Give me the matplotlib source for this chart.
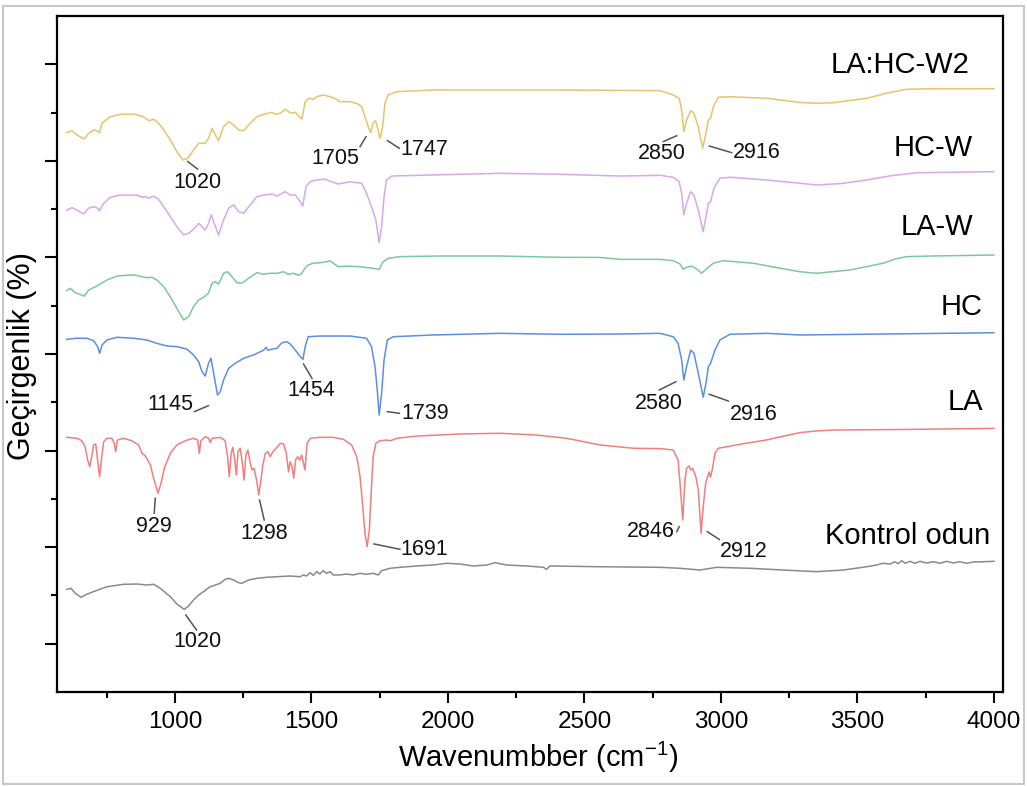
import matplotlib
matplotlib.use("Agg")
import matplotlib.pyplot as plt
from matplotlib.patches import Rectangle

plt.rcParams['font.family'] = ['Liberation Sans', 'DejaVu Sans']
plt.rcParams['mathtext.fontset'] = 'custom'
plt.rcParams['mathtext.rm'] = 'Liberation Sans'
plt.rcParams['mathtext.it'] = 'Liberation Sans:italic'

# ---------------- data (wavenumber, offset transmittance) ----------------
yellow_x = [604, 623, 641, 668, 684, 702, 714, 724, 733, 763, 800, 849, 885, 904, 922, 940, 959, 983, 1007, 1029,
            1047, 1068, 1087, 1111, 1123, 1136, 1148, 1160, 1178, 1197, 1215, 1233, 1252, 1270, 1300, 1325, 1355,
            1367, 1386, 1404, 1416, 1429, 1441, 1453, 1465, 1477, 1490, 1507, 1519, 1543, 1568, 1592, 1604, 1641,
            1671, 1684, 1696, 1708, 1717, 1726, 1735, 1741, 1751, 1761, 1769, 1781, 1812, 1946, 2410, 2777, 2825,
            2847, 2856, 2864, 2874, 2889, 2901, 2917, 2933, 2945, 2954, 2962, 2972, 2990, 3033, 3167, 3289, 3350,
            3411, 3534, 3606, 3680, 3778, 4000]
yellow_y = [579.2, 581.2, 576.8, 572.6, 578.5, 582, 581.2, 579.2, 588.9, 595.7, 598.2, 598.5, 595.7, 591.6, 593,
            588.9, 582, 571.6, 559.5, 550.9, 552.6, 561.2, 568.2, 568.2, 573.4, 583.7, 576.8, 570.9, 585.4, 590.6,
            587.1, 582, 581.2, 587.1, 595.7, 598.2, 600.3, 598.2, 599.3, 603.4, 600.9, 599.3, 600.3, 596.4, 593.3,
            611.3, 614.8, 613.7, 616.4, 618.2, 616.4, 613.7, 611.3, 611.3, 608.9, 606.1, 595.7, 585.4, 579.2, 588.9,
            591.6, 585.4, 573.4, 585.4, 609.6, 618.2, 621.6, 623.4, 623.4, 622.7, 618.2, 614.8, 602.7, 580.2, 592.3,
            601.9, 599.3, 585.4, 563, 578.5, 592.3, 594.1, 606.1, 615.8, 616.4, 614.8, 610.5, 609.6, 610.2, 614.8,
            620.0, 624.1, 624.7, 624.7]

purple_x = [604, 623, 641, 666, 684, 702, 717, 724, 739, 763, 800, 861, 879, 891, 904, 922, 940, 959, 983, 1007,
            1032, 1050, 1068, 1087, 1099, 1111, 1123, 1133, 1144, 1160, 1178, 1197, 1215, 1233, 1252, 1270, 1300,
            1325, 1355, 1374, 1404, 1422, 1441, 1459, 1468, 1480, 1495, 1519, 1549, 1574, 1598, 1641, 1684, 1702,
            1720, 1736, 1748, 1757, 1766, 1775, 1794, 1946, 2190, 2410, 2630, 2777, 2825, 2847, 2856, 2864, 2874,
            2889, 2901, 2917, 2935, 2945, 2954, 2962, 2974, 2996, 3033, 3167, 3289, 3350, 3440, 3534, 3620, 3717,
            4000]
purple_y = [499, 501.5, 499, 495, 501, 502.5, 501, 498.4, 506, 512.3, 514.6, 514.6, 512.3, 513, 511.2, 513.6,
            510.2, 502.5, 492.2, 481.8, 473.2, 475, 479, 485.3, 481.8, 478.4, 485.3, 494, 485.3, 473.2, 488.8, 501,
            504.3, 497.4, 495.7, 502.5, 513, 514.6, 515.7, 513.6, 518.1, 514.6, 514.6, 507.7, 503.3, 523.2, 528.4,
            530.2, 531, 528.4, 526, 528.4, 526.8, 516.4, 502.5, 488.8, 465.3, 481.8, 513, 530.2, 534.3, 535.4,
            537.1, 536.1, 534.3, 535, 533, 528.4, 516.4, 494, 506, 518, 514.6, 499, 476.6, 492.2, 506, 507.7,
            521.6, 532, 533, 530.2, 526.8, 525, 526.5, 530.2, 534.5, 537.7, 538.8]

green_x = [604, 616, 635, 668, 684, 714, 751, 788, 849, 879, 897, 916, 934, 959, 983, 1007, 1032, 1050, 1068, 1087,
           1105, 1123, 1136, 1148, 1160, 1178, 1193, 1209, 1227, 1245, 1270, 1300, 1325, 1349, 1374, 1398, 1416,
           1435, 1453, 1465, 1476, 1488, 1507, 1531, 1556, 1568, 1580, 1598, 1629, 1678, 1726, 1748, 1763, 1781,
           1824, 1971, 2190, 2410, 2557, 2630, 2777, 2825, 2850, 2862, 2874, 2893, 2913, 2929, 2945, 2972, 3008,
           3118, 3253, 3289, 3350, 3472, 3594, 3640, 3680, 3778, 4000]
green_y = [415.6, 418, 413.5, 410, 416.3, 420.4, 426.6, 430.8, 432, 430, 429, 429.4, 426.6, 419.7, 409.3, 397.3,
           385.2, 388.6, 399, 406, 408.7, 413, 423.2, 425, 422.5, 433.6, 435.2, 430, 423.8, 423.2, 428.4, 434.2,
           432.5, 433.6, 433.6, 435.2, 432.5, 433.6, 431.5, 433.6, 438.7, 442.2, 444, 444.5, 445.6, 446.6, 444,
           440.4, 441, 440.4, 438.7, 437.7, 445.6, 449, 450.8, 451.5, 451.5, 450.1, 450, 448, 448, 446.6, 443.2,
           437.7, 439.8, 441, 437.7, 433.6, 437.7, 444, 446.6, 444, 437, 435.2, 433.6, 437, 444, 448.5, 450.8,
           451.5, 452.5]

blue_x = [604, 641, 678, 702, 717, 724, 733, 751, 788, 849, 897, 934, 971, 1007, 1044, 1068, 1087, 1099, 1111, 1123,
          1132, 1144, 1156, 1166, 1178, 1197, 1221, 1252, 1288, 1325, 1334, 1340, 1374, 1392, 1410, 1422, 1441,
          1459, 1469, 1477, 1488, 1531, 1641, 1702, 1720, 1733, 1741, 1748, 1757, 1766, 1778, 1800, 1946, 2190,
          2410, 2630, 2777, 2825, 2843, 2856, 2864, 2874, 2889, 2901, 2917, 2935, 2945, 2954, 2962, 2978, 2996,
          3033, 3167, 3289, 4000]
blue_y = [365.2, 366.3, 366.3, 363.8, 357.6, 350.7, 359.3, 364.5, 367.3, 366.3, 364.5, 361, 358.3, 357.6, 355, 349,
          342, 331.7, 327.2, 340.4, 345.6, 326.5, 307.5, 311, 323, 335.2, 340.4, 345.6, 349, 354, 357, 354, 356,
          361.7, 362.7, 360.4, 354, 347.2, 344.5, 357.6, 367.9, 368.6, 368.6, 366.3, 357.6, 336.8, 312.7, 286.8,
          309.3, 343.8, 364.5, 367.9, 369.7, 371.4, 370.4, 370.7, 371.4, 367.9, 361, 343.8, 323, 336.8, 354, 350.7,
          330, 305.2, 319.7, 336.8, 340.4, 354, 364.5, 370.4, 371.4, 369.7, 372]

red_x = [604, 641, 659, 671, 680, 688, 695, 702, 710, 717, 724, 732, 739, 751, 769, 778, 783, 789, 812, 842, 867,
         879, 888, 897, 910, 922, 938, 949, 961, 983, 1007, 1038, 1068, 1083, 1089, 1095, 1111, 1123, 1129, 1137,
         1166, 1184, 1193, 1199, 1206, 1212, 1219, 1225, 1231, 1239, 1247, 1253, 1260, 1267, 1276, 1283, 1290,
         1299, 1307, 1315, 1322, 1331, 1340, 1349, 1359, 1367, 1376, 1386, 1398, 1408, 1416, 1422, 1429, 1435,
         1442, 1450, 1457, 1464, 1471, 1476, 1484, 1496, 1531, 1580, 1617, 1647, 1666, 1678, 1688, 1696, 1704,
         1712, 1718, 1726, 1736, 1751, 1775, 1790, 1812, 1885, 2044, 2190, 2320, 2435, 2557, 2679, 2777, 2825,
         2843, 2852, 2860, 2868, 2874, 2883, 2889, 2896, 2908, 2917, 2927, 2935, 2944, 2951, 2957, 2962, 2969,
         2978, 2990, 3070, 3167, 3230, 3289, 3350, 3411, 3656, 4000]
red_y = [263.7, 262.7, 260.2, 254, 240.2, 233.3, 243.7, 255.8, 256.8, 240.2, 223, 243.7, 259.2, 262.7, 262.7,
         257.5, 248.8, 260.9, 262.7, 260.2, 255.8, 247.2, 245.4, 242, 235, 221.3, 205.8, 216, 231.6, 247.2, 255.8,
         260.2, 262.7, 261, 247.2, 260.2, 264.4, 262.7, 258.2, 262.7, 263.7, 260.2, 243.7, 223, 247.2, 253.4,
         240.2, 224.7, 248.8, 252.4, 236.8, 219.5, 245.4, 250.6, 236.8, 229.9, 231.6, 219.5, 204, 219.5, 235,
         247.2, 248.8, 243.7, 248.8, 251.3, 254, 257.5, 256.8, 247.2, 228, 238.5, 233.3, 221.3, 240.2, 243.7,
         240.2, 245.4, 236.8, 229.9, 257.5, 262.7, 263.7, 263.7, 261.7, 255.8, 243.7, 223, 192, 164.3, 150.5,
         167.8, 202.2, 243.7, 257.5, 260.2, 260.9, 260.2, 262.7, 265, 267.2, 267.9, 266.2, 262.7, 255.8, 252.4,
         252, 250.6, 240.2, 209.2, 178.1, 219.5, 231.6, 234, 229.9, 231.6, 223, 209.2, 164.3, 192, 216, 223, 228,
         222.3, 231.6, 247.2, 252.4, 256.5, 261, 265, 268.6, 270.3, 271.3, 271.8, 273]

gray_x = [604, 619, 635, 656, 671, 702, 751, 812, 861, 897, 922, 946, 983, 1007, 1034, 1050, 1068, 1087, 1105,
          1129, 1148, 1166, 1184, 1197, 1215, 1233, 1245, 1270, 1300, 1337, 1374, 1422, 1459, 1470, 1482, 1495,
          1507, 1519, 1531, 1543, 1556, 1568, 1580, 1604, 1629, 1653, 1678, 1702, 1726, 1745, 1757, 1788, 1824,
          1885, 1946, 1995, 2044, 2093, 2142, 2172, 2215, 2288, 2350, 2361, 2374, 2557, 2777, 2850, 2923, 2984,
          3106, 3228, 3350, 3448, 3534, 3570, 3594, 3619, 3637, 3649, 3662, 3674, 3692, 3711, 3729, 3753, 3778,
          3802, 3827, 3851, 3875, 3900, 3924, 3961, 4000]
gray_y = [106.3, 107.4, 102.2, 98.1, 100.4, 104, 109, 111.5, 111.8, 110.8, 111.5, 107.4, 98.7, 91.1, 85.6, 89.1,
          95.3, 100.4, 104, 109, 110.8, 112.6, 116.7, 117.7, 116, 113.2, 112.6, 116, 117.7, 118.8, 119.4, 120.1,
          119.4, 121.2, 120.1, 123.5, 120.8, 124.6, 122.2, 125.6, 122.9, 124.6, 121.2, 121.2, 122.2, 121.2, 122.9,
          121.9, 122.9, 121.2, 125.6, 128.1, 129.1, 130.5, 131.5, 133.3, 132.5, 130.5, 131.5, 133.9, 131.5, 130.5,
          129.1, 127, 130.5, 129.7, 129.1, 128.1, 126.3, 129.1, 128.1, 126.3, 124.6, 126.3, 129.7, 131.5, 133.3,
          132.5, 134.9, 132.9, 136, 133.3, 135.3, 133.3, 135.3, 133.6, 134.9, 133.3, 135.3, 133.6, 134.9, 133.3,
          134.6, 134.9, 135.3]

series_names = ["LA:HC-W2", "HC-W", "LA-W", "HC", "LA", "Kontrol odun"]
name_pos = [(3912, 648.8), (3923, 563.3), (3923, 482.0), (3960, 398.2), (3959, 300.8), (3985, 161.5)]

# peak labels: text, text position, leader start, leader end
peak_text = ["1020", "1705", "1747", "2850", "2916", "1145", "1454", "1739", "2580", "2916",
             "929", "1298", "1691", "2846", "2912", "1020"]
peak_text_xy = [(1082, 527.6), (1587, 552.3), (1913, 562.1), (2784, 557.4), (3131, 558.3),
                (983, 298.0), (1501, 311.9), (1916, 288.0), (2771, 299.0), (3121, 287.7),
                (922, 171.2), (1327, 164.3), (1914, 147.9), (2742, 166.0), (3085, 145.3),
                (1082, 52.1)]
leader_a = [(1047, 549.3), (1678, 564.7), (1778, 571.0), (2789, 570.0), (2957, 565.4),
            (1071, 290.3), (1471, 339.6), (1778, 290.3), (2774, 312.7), (2957, 308.3),
            (928, 200.6), (1310, 198.8), (1729, 153.3), (2838, 166.0), (2950, 166.0),
            (1040, 79.7)]
leader_b = [(1083, 541.5), (1700, 575.0), (1822, 563.0), (2838, 576.0), (3039, 558.5),
            (1123, 296.5), (1502, 324.8), (1822, 288.6), (2835, 321.3), (3027, 301.3),
            (924, 185.0), (1327, 178.1), (1824, 147.8), (2847, 171.2), (2994, 157.9),
            (1079, 64.2)]

x_major = [1000, 1500, 2000, 2500, 3000, 3500, 4000]
x_minor = [750, 1250, 1750, 2250, 2750, 3250, 3750]
y_major = [50, 150, 250, 350, 450, 550, 650]
y_minor = [100, 200, 300, 400, 500, 600]

# ---------------- figure ----------------
fig = plt.figure(figsize=(10.27, 7.86), dpi=100)
ax = fig.add_axes([57 / 1027, 1 - 692 / 786, (1003 - 57) / 1027, (692 - 16) / 786])

colors = ["#E5C46B", "#D7A8EA", "#7FC79F", "#5B8FE6", "#F27E7E", "#8A8A8A"]
xs = [yellow_x, purple_x, green_x, blue_x, red_x, gray_x]
ys = [yellow_y, purple_y, green_y, blue_y, red_y, gray_y]
for x, y, c in zip(xs, ys, colors):
    ax.plot(x, y, color=c, lw=1.1, solid_joinstyle='round')

for name, (nx, ny) in zip(series_names, name_pos):
    ax.text(nx, ny, name, ha='right', va='center', fontsize=21, color='black')

for t, (tx, ty), a, b in zip(peak_text, peak_text_xy, leader_a, leader_b):
    ax.text(tx, ty, t, ha='center', va='center', fontsize=15.5, color='#111111')
    ax.plot([a[0], b[0]], [a[1], b[1]], color='#555555', lw=1.1)

ax.set_xlim(568, 4033)
ax.set_ylim(0, 700)
ax.set_xticks(x_major)
ax.set_xticks(x_minor, minor=True)
ax.set_yticks(y_major)
ax.set_yticks(y_minor, minor=True)
ax.set_yticklabels([])
ax.tick_params(axis='x', which='major', direction='out', length=8, width=1.5, labelsize=17.5, pad=6)
ax.tick_params(axis='x', which='minor', direction='out', length=4, width=1.5)
ax.tick_params(axis='y', which='major', direction='out', length=8.5, width=1.5)
ax.tick_params(axis='y', which='minor', direction='out', length=4.5, width=1.5)
for s in ax.spines.values():
    s.set_linewidth(1.6)

fig.text(0.524, 0.037, "Wavenumbber (cm$^{-1}$)", ha='center', va='center', fontsize=21)
fig.text(0.0214, 0.547, "Geçirgenlik (%)", ha='center', va='center', rotation=90, fontsize=22)

fig.patches.append(Rectangle((3 / 1027, 2 / 786), 1021 / 1027, 778 / 786, transform=fig.transFigure,
                             fill=False, edgecolor='#C8C8C8', lw=1.5))

fig.savefig("out.png", dpi=100)
